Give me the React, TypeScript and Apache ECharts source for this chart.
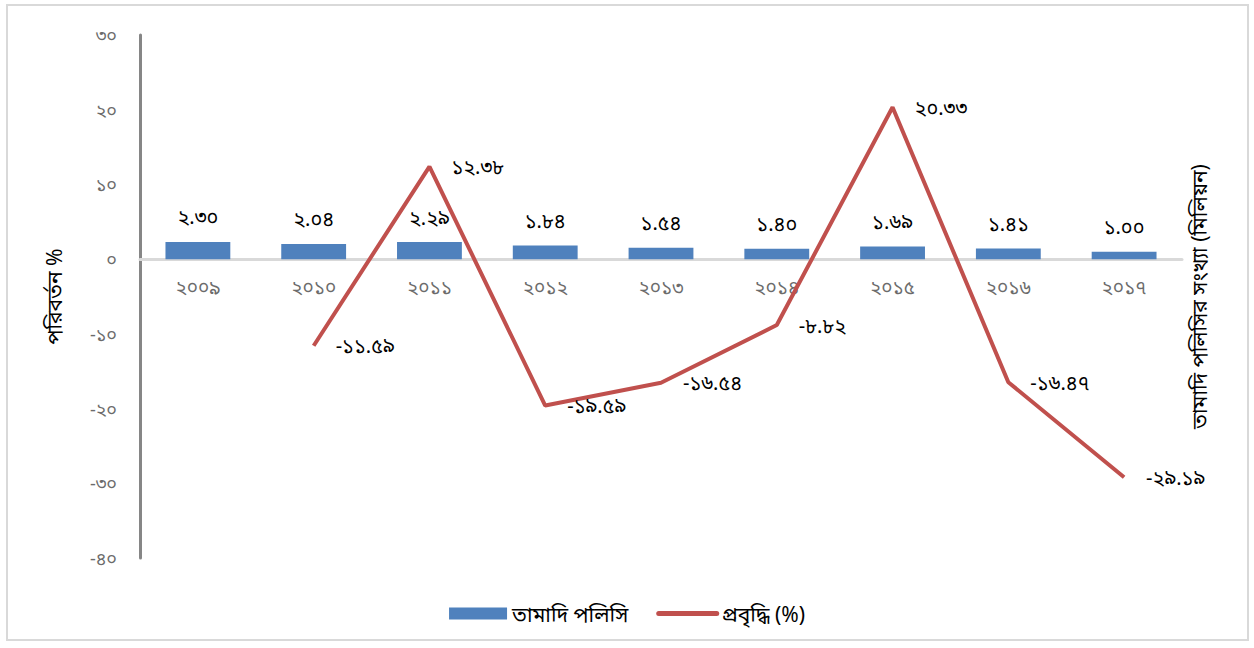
import React, { useEffect, useRef } from "react";
import * as echarts from "echarts";

const categories = ["২০০৯", "২০১০", "২০১১", "২০১২", "২০১৩", "২০১৪", "২০১৫", "২০১৬", "২০১৭"];
const lapsedPolicies = [2.3, 2.04, 2.29, 1.84, 1.54, 1.4, 1.69, 1.41, 1.0];
const growthPct: (number | null)[] = [null, -11.59, 12.38, -19.59, -16.54, -8.82, 20.33, -16.47, -29.19];
const barName = "তামাদি পলিসি";
const lineName = "প্রবৃদ্ধি (%)";
const leftAxisName = "পরিবর্তন %";
const rightAxisName = "তামাদি পলিসির সংখ্যা (মিলিয়ন)";
const yMin = -40;
const yMax = 30;
const yStep = 10;

const bnDigits = ["০", "১", "২", "৩", "৪", "৫", "৬", "৭", "৮", "৯"];
const toBn = (s: string) => s.replace(/[0-9]/g, (d) => bnDigits[Number(d)]);

const FONT = "'Noto Sans', 'Noto Sans Bengali', 'DejaVu Sans', sans-serif";

export default function App() {
  const ref = useRef<HTMLDivElement>(null);
  useEffect(() => {
    if (!ref.current) return;
    const chart = echarts.init(ref.current, undefined, { renderer: "svg" });
    const gridTop = 35;
    const gridBottomPx = 558;
    const zeroY = gridTop + ((yMax - 0) / (yMax - yMin)) * (gridBottomPx - gridTop);
    chart.setOption({
      animation: false,
      backgroundColor: "#ffffff",
      textStyle: { fontFamily: FONT },
      graphic: [
        {
          type: "rect",
          shape: { x: 7, y: 5, width: 1241, height: 635 },
          style: { fill: "none", stroke: "#d9d9d9", lineWidth: 2 },
          silent: true,
        },
      ],
      grid: { left: 140, right: 72, top: gridTop, bottom: 648 - gridBottomPx, containLabel: false },
      legend: {
        top: 598,
        left: "center",
        itemGap: 28,
        itemWidth: 58,
        itemHeight: 12,
        textStyle: { fontSize: 21, color: "#000", fontFamily: FONT },
        data: [
          { name: barName, icon: "rect" },
          {
            name: lineName,
            itemStyle: { opacity: 0 },
            lineStyle: { width: 5, cap: "round", color: "#C0504D" },
          },
        ],
      },
      xAxis: [
        {
          type: "category",
          data: categories,
          axisLine: { onZero: true, onZeroAxisIndex: 0, lineStyle: { color: "#d9d9d9", width: 3 } },
          axisTick: { show: false },
          axisLabel: { show: false },
        },
        {
          type: "category",
          data: categories,
          position: "bottom",
          offset: -(gridBottomPx - zeroY),
          axisLine: { show: false },
          axisTick: { show: false },
          axisLabel: { color: "#6b6b6b", fontSize: 19, margin: 18, fontFamily: FONT },
        },
      ],
      yAxis: [
        {
          type: "value",
          min: yMin,
          max: yMax,
          interval: yStep,
          name: leftAxisName,
          nameLocation: "middle",
          nameRotate: 90,
          nameGap: 76,
          nameTextStyle: { fontSize: 21, color: "#000", fontFamily: FONT },
          axisLine: { show: true, lineStyle: { color: "#868686", width: 3 } },
          axisTick: { show: false },
          splitLine: { show: false },
          axisLabel: {
            color: "#6b6b6b",
            fontSize: 18,
            margin: 23,
            fontFamily: FONT,
            formatter: (v: number) => toBn(String(v)),
          },
        },
        {
          type: "value",
          min: yMin,
          max: yMax,
          interval: yStep,
          position: "right",
          name: rightAxisName,
          nameLocation: "middle",
          nameRotate: 90,
          nameGap: 6,
          nameTextStyle: { fontSize: 21, color: "#000", fontFamily: FONT },
          axisLine: { show: false },
          axisTick: { show: false },
          splitLine: { show: false },
          axisLabel: { show: false },
        },
      ],
      series: [
        {
          name: barName,
          type: "bar",
          yAxisIndex: 1,
          xAxisIndex: 0,
          data: lapsedPolicies,
          barWidth: "56%",
          itemStyle: { color: "#4F81BD" },
          label: {
            show: true,
            position: "top",
            distance: 15,
            fontSize: 20,
            color: "#000",
            fontFamily: FONT,
            formatter: (p: any) => toBn(Number(p.value).toFixed(2)),
          },
          z: 1,
        },
        {
          name: lineName,
          type: "line",
          yAxisIndex: 0,
          xAxisIndex: 0,
          data: growthPct,
          symbol: "circle",
          symbolSize: 0,
          showSymbol: true,
          lineStyle: { color: "#C0504D", width: 4 },
          itemStyle: { color: "#C0504D" },
          label: {
            show: true,
            position: "right",
            distance: 22,
            fontSize: 20,
            color: "#000",
            fontFamily: FONT,
            formatter: (p: any) => toBn(Number(p.value).toFixed(2)),
          },
          z: 3,
        },
      ],
    });
    return () => chart.dispose();
  }, []);
  return (
    <div
      ref={ref}
      style={{ position: "fixed", left: 0, top: 0, width: 1254, height: 648 }}
    />
  );
}
